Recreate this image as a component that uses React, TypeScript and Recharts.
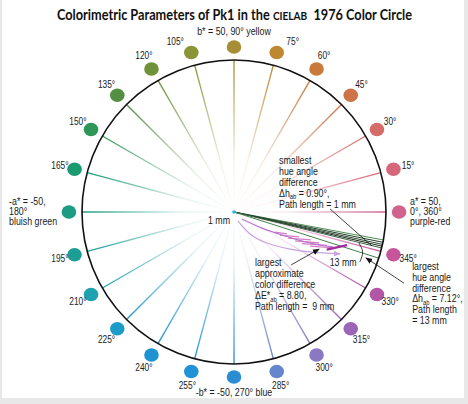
import { ScatterChart, Scatter, XAxis, YAxis, ReferenceDot, ReferenceLine } from 'recharts'

const W = 468
const H = 404
const CX = 234 // pixel centre of the colour circle
const CY = 212
const RIM = 50 // a* / b* = 50 on the circle
const PX = 152 / RIM // pixels per CIELAB unit

const X_DOMAIN = [-CX / PX, (W - CX) / PX]
const Y_DOMAIN = [-(H - CY) / PX, CY / PX]

// narrow Helvetica look: Liberation Sans squeezed horizontally
const FONT = "'Liberation Sans', Arial, sans-serif"
const NARROW = 0.82

// hue ring
const HUES = [0, 15, 30, 45, 60, 75, 90, 105, 120, 135, 150, 165, 180, 195, 210, 225, 240, 255, 270, 285, 300, 315, 330, 345]
const HUE_COLORS = [
  '#d0648e', '#d7687a', '#d66c68', '#cc7448', '#c97a3a', '#be8830', '#a68e36', '#8b9537',
  '#6e913a', '#558f43', '#2e9658', '#1b9a70', '#1c9c82', '#1b9f95', '#1ea1b0', '#1c9bc8',
  '#1d93d2', '#2093d6', '#2a8dd2', '#6585cc', '#8a79c2', '#9b66b8', '#b456a6', '#c6559a',
]
const HUE_LABELS = ['', '15°', '30°', '45°', '60°', '75°', '', '105°', '120°', '135°', '150°', '165°', '', '195°', '210°', '225°', '240°', '255°', '', '285°', '300°', '315°', '330°', '345°']
const LABEL_SHIFT: Record<number, number> = { 105: 4, 75: -4 }

// Pk1 hue angle paths (degrees)
const PK1_HUES = [349.4, 348.5, 347.7, 347.0, 346.3, 342.3]
const PK1_COLORS = ['#4f8e55', '#23402b', '#2c4d33', '#1b2c20', '#3d6544', '#3f8349']

// short pink strokes (a*, b*)
const PINK_DASHES = [
  [[13.5, -6.6], [17.4, -7.2]],
  [[15.1, -7.6], [21.4, -8.2]],
  [[17.8, -8.6], [25.3, -9.2]],
  [[20.1, -9.5], [28.0, -10.2]],
  [[22.4, -10.4], [30.6, -11.0]],
  [[25.0, -11.2], [32.9, -11.8]],
]
const WEDGE = [{ x: 30.5, y: -12.4 }, { x: 37.2, y: -10.9 }]

const LAVENDER_PATH = [
  { x: 1.3, y: -3.0 }, { x: 5.3, y: -7.2 }, { x: 10.9, y: -10.2 },
  { x: 18.4, y: -12.2 }, { x: 25.7, y: -13.2 }, { x: 34.9, y: -13.8 },
]
const PURPLE_PATH = [
  { x: 2.6, y: -2.3 }, { x: 9.2, y: -5.3 }, { x: 16.8, y: -7.9 },
  { x: 25.0, y: -10.2 }, { x: 32.6, y: -11.5 },
]

// pointer lines
const ARROW_SMALLEST = [{ x: 31.6, y: 1.0 }, { x: 45.4, y: -11.2 }]
const ARROW_APPROX = [{ x: 18.8, y: -17.4 }, { x: 28.0, y: -12.2 }]
const ARROW_HUE = [{ x: 55.9, y: -23.4 }, { x: 43.4, y: -15.1 }]
const ANGLE_ARC = [{ x: 41.1, y: -10.2 }, { x: 42.3, y: -13.2 }, { x: 41.4, y: -16.4 }]

type Seg = string | { sub: string }
type Note = { x: number; y: number; anchor: 'start' | 'middle' | 'end'; lh: number; lines: Seg[][] }

const NOTES: Note[] = [
  { x: 0, y: 58.2, anchor: 'middle', lh: 11, lines: [['b* = 50, 90° yellow']] },
  { x: 0, y: -60.4, anchor: 'middle', lh: 11, lines: [['-b* = -50, 270° blue']] },
  { x: 57.9, y: 2.3, anchor: 'start', lh: 10, lines: [['a* = 50,'], ['0°, 360°'], ['purple-red']] },
  { x: -74.0, y: 2.3, anchor: 'start', lh: 10, lines: [['-a* = -50,'], ['180°'], ['bluish green']] },
  { x: -1.3, y: -3.9, anchor: 'end', lh: 11, lines: [['1 mm']] },
  {
    x: 14.8, y: 15.8, anchor: 'start', lh: 11,
    lines: [['smallest'], ['hue angle'], ['difference'], ['Δh', { sub: 'ab' }, ' = 0.90°,'], ['Path length = 1 mm']],
  },
  {
    x: 6.9, y: -17.8, anchor: 'start', lh: 11,
    lines: [['largest'], ['approximate'], ['color difference'], ['ΔE*', { sub: 'ab' }, ' = 8.80,'], ['Path length =  9 mm']],
  },
  { x: 35.9, y: -17.8, anchor: 'middle', lh: 11, lines: [['13 mm']] },
  {
    x: 58.6, y: -19.1, anchor: 'start', lh: 10.8,
    lines: [['largest'], ['hue angle'], ['difference'], ['Δh', { sub: 'ab' }, ' = 7.12°,'], ['Path length'], ['= 13 mm']],
  },
]

const polar = (h: number, r: number) => ({
  x: r * Math.cos((h * Math.PI) / 180),
  y: r * Math.sin((h * Math.PI) / 180),
})

const spokeData = HUES.map((h, i) => ({ ...polar(h, RIM), h, color: HUE_COLORS[i] }))
const dotData = HUES.map((h, i) => ({ ...polar(h, 54.3), h, color: HUE_COLORS[i] }))
const labelData = HUES.map((h, i) => ({ ...polar(h + (LABEL_SHIFT[h] || 0), 59.3), label: HUE_LABELS[i] })).filter(
  (d) => d.label,
)

const SpokeShape = (props: any) => {
  const { cx, cy, payload } = props
  const ox = cx - payload.x * PX
  const oy = cy + payload.y * PX
  const id = `spoke-${payload.h}`
  return (
    <g>
      <defs>
        <linearGradient id={id} gradientUnits="userSpaceOnUse" x1={ox} y1={oy} x2={cx} y2={cy}>
          <stop offset="0" stopColor={payload.color} stopOpacity={0} />
          <stop offset="0.35" stopColor={payload.color} stopOpacity={0.12} />
          <stop offset="1" stopColor={payload.color} stopOpacity={1} />
        </linearGradient>
      </defs>
      <line x1={ox} y1={oy} x2={cx} y2={cy} stroke={`url(#${id})`} strokeWidth={1.4} />
    </g>
  )
}

const DotShape = (props: any) => (
  <ellipse cx={props.cx} cy={props.cy} rx={7.3} ry={6.7} fill={props.payload.color} />
)

const LabelShape = (props: any) => (
  <text
    transform={`translate(${props.cx} ${props.cy}) scale(${NARROW} 1)`}
    textAnchor="middle"
    dominantBaseline="central"
    fontFamily={FONT}
    fontSize={10.2}
    fill="#222"
  >
    {props.payload.label}
  </text>
)

const renderLine = (segs: Seg[]) =>
  segs.map((s, j) => {
    if (typeof s !== 'string') {
      return (
        <tspan key={j} fontSize={7} dy={2.5}>
          {s.sub}
        </tspan>
      )
    }
    const afterSub = j > 0 && typeof segs[j - 1] !== 'string'
    return (
      <tspan key={j} dy={afterSub ? -2.5 : undefined}>
        {s}
      </tspan>
    )
  })

const NoteShape = (props: any) => {
  const { cx, cy, payload } = props
  return (
    <text
      transform={`translate(${cx} ${cy}) scale(${NARROW} 1)`}
      textAnchor={payload.anchor}
      fontFamily={FONT}
      fontSize={10.8}
      fill="#1a1a1a"
      style={{ whiteSpace: 'pre' }}
    >
      {payload.lines.map((line: Seg[], i: number) => (
        <tspan key={i} x={0} y={i * payload.lh}>
          {renderLine(line)}
        </tspan>
      ))}
    </text>
  )
}

const Empty = () => <g />

const App = () => {
  return (
    <div style={{ position: 'relative', width: W, height: H, background: '#e8e8e8', overflow: 'hidden' }}>
      <style>{'body{margin:0}'}</style>
      <div style={{ position: 'absolute', left: 2, top: 0, width: 462, height: 398, background: '#fff' }} />
      <svg width={0} height={0} style={{ position: 'absolute' }}>
        <defs>
          <marker id="arrBlack" viewBox="0 0 10 10" refX="9" refY="5" markerUnits="userSpaceOnUse" markerWidth="7" markerHeight="7" orient="auto">
            <path d="M0,1 L10,5 L0,9 z" fill="#111" />
          </marker>
          <marker id="arrLav" viewBox="0 0 10 10" refX="9" refY="5" markerUnits="userSpaceOnUse" markerWidth="7" markerHeight="7" orient="auto">
            <path d="M0,1 L10,5 L0,9 z" fill="#c7a3e2" />
          </marker>
        </defs>
      </svg>
      <div style={{ position: 'absolute', left: 0, top: 0 }}>
        <ScatterChart width={W} height={H} margin={{ top: 0, right: 0, bottom: 0, left: 0 }}>
          <XAxis type="number" dataKey="x" domain={X_DOMAIN} allowDataOverflow hide />
          <YAxis type="number" dataKey="y" domain={Y_DOMAIN} allowDataOverflow hide />
          <Scatter data={spokeData} shape={SpokeShape} isAnimationActive={false} />
          <ReferenceDot x={0} y={0} r={RIM * PX} fill="none" stroke="#111" strokeWidth={1.6} />
          <Scatter data={dotData} shape={DotShape} isAnimationActive={false} />
          <Scatter data={labelData} shape={LabelShape} isAnimationActive={false} />
          <Scatter
            data={LAVENDER_PATH}
            shape={Empty}
            line={{ stroke: '#c7a3e2', strokeWidth: 1.3, markerEnd: 'url(#arrLav)' }}
            lineJointType="natural"
            isAnimationActive={false}
          />
          <Scatter
            data={PURPLE_PATH}
            shape={Empty}
            line={{ stroke: '#b576cf', strokeWidth: 1.2 }}
            lineJointType="natural"
            isAnimationActive={false}
          />
          {PINK_DASHES.map((d, i) => (
            <ReferenceLine
              key={`pd${i}`}
              segment={[{ x: d[0][0], y: d[0][1] }, { x: d[1][0], y: d[1][1] }]}
              stroke="#d67cc8"
              strokeWidth={1.3}
            />
          ))}
          <Scatter data={WEDGE} shape={Empty} line={{ stroke: '#a32a9e', strokeWidth: 2.4 }} isAnimationActive={false} />
          {PK1_HUES.map((h, i) => (
            <ReferenceLine key={`pk${i}`} segment={[{ x: 0, y: 0 }, polar(h, RIM)]} stroke={PK1_COLORS[i]} strokeWidth={1} />
          ))}
          <ReferenceDot x={0} y={0} r={1.8} fill="#2bb6e0" stroke="none" />
          <Scatter data={ARROW_SMALLEST} shape={Empty} line={{ stroke: '#111', strokeWidth: 0.8 }} isAnimationActive={false} />
          <Scatter
            data={ARROW_APPROX}
            shape={Empty}
            line={{ stroke: '#111', strokeWidth: 0.8, markerEnd: 'url(#arrBlack)' }}
            isAnimationActive={false}
          />
          <Scatter
            data={ARROW_HUE}
            shape={Empty}
            line={{ stroke: '#111', strokeWidth: 0.8, markerEnd: 'url(#arrBlack)' }}
            isAnimationActive={false}
          />
          <Scatter
            data={ANGLE_ARC}
            shape={Empty}
            line={{ stroke: '#111', strokeWidth: 0.8 }}
            lineJointType="natural"
            isAnimationActive={false}
          />
          <Scatter data={NOTES} shape={NoteShape} isAnimationActive={false} />
        </ScatterChart>
      </div>
      <svg width={W} height={34} style={{ position: 'absolute', left: 0, top: 0 }}>
        <text
          x={234.5}
          y={19.5}
          textAnchor="middle"
          fontFamily="Lato, 'Open Sans', sans-serif"
          fontWeight={700}
          fontSize={14.5}
          fill="#111"
          textLength={355}
          lengthAdjust="spacingAndGlyphs"
        >
          Colorimetric Parameters of Pk1 in the <tspan fontSize={11.5}>CIELAB</tspan>
          {'\u00a0 1976 Color Circle'}
        </text>
      </svg>
    </div>
  )
}

export default App
